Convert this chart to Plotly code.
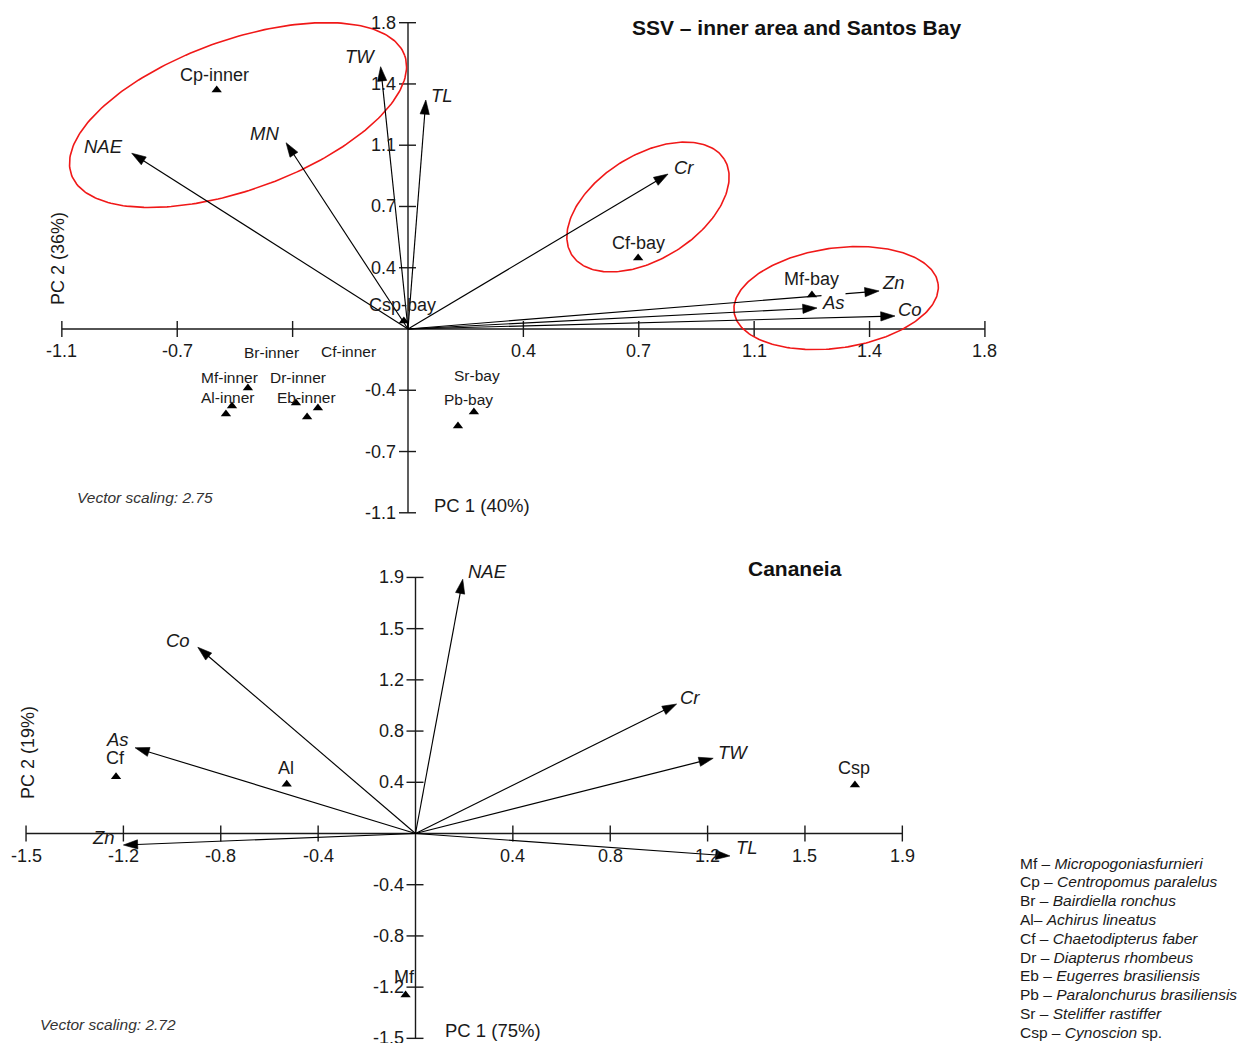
import numpy as np
import plotly.graph_objects as go

W, H = 1246, 1043

# ---------------- DATA: top panel (SSV - inner area and Santos Bay) ----------------
top_vec_names = ["NAE", "MN", "TW", "TL", "Cr", "Zn", "As", "Co"]
top_vec_x = [-0.868, -0.383, -0.086, 0.056, 0.817, 1.480, 1.285, 1.530]
top_vec_y = [1.040, 1.102, 1.552, 1.355, 0.917, 0.225, 0.124, 0.077]

top_samp_names = ["Cp-inner", "Br-inner", "Mf-inner", "Al-inner", "Dr-inner", "Eb-inner",
                  "Cf-inner", "Sr-bay", "Pb-bay", "Cf-bay", "Mf-bay", "Csp-bay"]
top_samp_x = [-0.601, -0.503, -0.553, -0.572, -0.352, -0.317, -0.283, 0.207, 0.157, 0.723, 1.269, -0.013]
top_samp_y = [1.414, -0.349, -0.456, -0.503, -0.438, -0.521, -0.467, -0.491, -0.574, 0.420, 0.201, 0.047]

top_tick_vals = [-1.0875, -0.725, -0.3625, 0.0, 0.3625, 0.725, 1.0875, 1.45, 1.8125]
top_x_ticktext = ["-1.1", "-0.7", "", "", "0.4", "0.7", "1.1", "1.4", "1.8"]
top_y_ticktext = ["-1.1", "-0.7", "-0.4", "", "0.4", "0.7", "1.1", "1.4", "1.8"]

# ---------------- DATA: bottom panel (Cananeia) ----------------
bot_vec_names = ["NAE", "Co", "As", "Zn", "Cr", "TW", "TL"]
bot_vec_x = [0.186, -0.857, -1.104, -1.150, 1.028, 1.172, 1.238]
bot_vec_y = [1.903, 1.394, 0.642, -0.086, 0.969, 0.563, -0.168]

bot_samp_names = ["Cf", "Al", "Csp", "Mf"]
bot_samp_x = [-1.179, -0.507, 1.730, -0.039]
bot_samp_y = [0.425, 0.368, 0.363, -1.209]

bot_tick_vals = [-1.5333, -1.15, -0.7667, -0.3833, 0.0, 0.3833, 0.7667, 1.15, 1.5333, 1.9167]
bot_ticktext = ["-1.5", "-1.2", "-0.8", "-0.4", "", "0.4", "0.8", "1.2", "1.5", "1.9"]

legend_abbr = ["Mf –", "Cp –", "Br –", "Al–", "Cf –", "Dr –", "Eb –", "Pb –", "Sr –", "Csp –"]
legend_species = ["Micropogoniasfurnieri", "Centropomus paralelus", "Bairdiella ronchus",
                  "Achirus lineatus", "Chaetodipterus faber", "Diapterus rhombeus",
                  "Eugerres brasiliensis", "Paralonchurus brasiliensis", "Steliffer rastiffer",
                  "Cynoscion"]
legend_suffix = ["", "", "", "", "", "", "", "", "", " sp."]

# ---------------- STYLE / LAYOUT ----------------
FONT = "Liberation Sans, Arial, sans-serif"
TXT = "#1a1a1a"
SPLIT = 545  # pixel row separating the two panels

# panel geometry: origin pixel and pixels per unit
top_geo = dict(ox=408.0, oy=329.0, sx=318.3, sy=169.0, ytop=0, ybot=SPLIT)
bot_geo = dict(ox=415.5, oy=833.5, sx=254.0, sy=133.6, ytop=SPLIT, ybot=H)


def axis_ranges(g):
    xr = [-g["ox"] / g["sx"], (W - g["ox"]) / g["sx"]]
    yr = [(g["oy"] - g["ybot"]) / g["sy"], (g["oy"] - g["ytop"]) / g["sy"]]
    return xr, yr


# label offsets (pixels) relative to the mark
top_vec_lab_off = {"NAE": (-28, 7), "MN": (-22, 9), "TW": (-21, 10), "TL": (16, 5),
                   "Cr": (16, 7), "Zn": (14, 8), "As": (16, 6), "Co": (15, 6)}
top_samp_lab_off = {"Cp-inner": (-2, 15), "Br-inner": (24, 35), "Mf-inner": (-2, 29),
                    "Al-inner": (2, 17), "Dr-inner": (2, 26), "Eb-inner": (-1, 20),
                    "Cf-inner": (31, 56), "Sr-bay": (3, 36), "Pb-bay": (11, 27),
                    "Cf-bay": (0, 15), "Mf-bay": (0, 16), "Csp-bay": (-1, 16)}
big_samp = {"Cp-inner", "Cf-bay", "Mf-bay", "Csp-bay"}
bot_vec_lab_off = {"NAE": (25, 8), "Co": (-20, 7), "As": (-18, 8), "Zn": (-20, 7),
                   "Cr": (13, 7), "TW": (20, 6), "TL": (17, 8)}
bot_samp_lab_off = {"Cf": (-1, 19), "Al": (-1, 16), "Csp": (-1, 17), "Mf": (-1, 18)}

# ellipses: centre in data units, semi-axes in pixels, rotation in degrees
top_ellipses = [((-0.534, 1.266), 177, 75, 19.7),
                ((0.754, 0.722), 90, 52, 32.0),
                ((1.345, 0.183), 103, 50, 8.0)]

fig = go.Figure()
shapes = []
annotations = []
AXC = "#1a1a1a"


def add_panel(xa, ya, g, tick_vals, xtt, ytt, vnames, vx, vy, voff,
              snames, sx_, sy_, soff, sfont):
    xref, yref = xa, ya
    lo, hi = tick_vals[0], tick_vals[-1]
    shapes.append(dict(type="line", xref=xref, yref=yref, x0=lo, x1=hi, y0=0, y1=0,
                       line=dict(color=AXC, width=1.4), layer="below"))
    shapes.append(dict(type="line", xref=xref, yref=yref, x0=0, x1=0, y0=lo, y1=hi,
                       line=dict(color=AXC, width=1.4), layer="below"))
    for tv, lx, ly in zip(tick_vals, xtt, ytt):
        if tv != 0:
            shapes.append(dict(type="line", xref=xref, yref=yref, x0=tv, x1=tv,
                               ysizemode="pixel", yanchor=0, y0=-8, y1=8,
                               line=dict(color=AXC, width=1.4), layer="below"))
            shapes.append(dict(type="line", xref=xref, yref=yref, y0=tv, y1=tv,
                               xsizemode="pixel", xanchor=0, x0=-9, x1=8,
                               line=dict(color=AXC, width=1.4), layer="below"))
        if lx:
            annotations.append(dict(text=lx, xref=xref, yref=yref, x=tv, y=0, yshift=-22,
                                    showarrow=False, xanchor="center", yanchor="middle",
                                    font=dict(family=FONT, size=18, color=TXT)))
        if ly:
            annotations.append(dict(text=ly, xref=xref, yref=yref, x=0, y=tv, xshift=-10,
                                    showarrow=False, xanchor="right", yanchor="middle",
                                    font=dict(family=FONT, size=18, color=TXT)))
    # vectors
    for n, x, y in zip(vnames, vx, vy):
        fig.add_trace(go.Scatter(
            x=[0, x], y=[0, y], mode="lines+markers", showlegend=False, hoverinfo="skip",
            line=dict(color="#000", width=1.15),
            marker=dict(symbol=["circle", "arrow"], size=[0, 15], angleref="previous",
                        color="#000", opacity=1, line=dict(width=0.6, color="#000")),
            xaxis=xa, yaxis=ya, cliponaxis=False))
    for n, x, y in zip(vnames, vx, vy):
        dx, dy = voff[n]
        annotations.append(dict(text="<i>%s</i>" % n, xref=xref, yref=yref, x=x, y=y,
                                xshift=dx, yshift=dy, showarrow=False,
                                xanchor="center", yanchor="middle",
                                bgcolor="white" if (n == "As" and xa == "x") else None,
                                borderpad=0,
                                font=dict(family=FONT, size=18.5, color=TXT)))
    # samples
    fig.add_trace(go.Scatter(
        x=sx_, y=sy_, mode="markers", showlegend=False, hoverinfo="skip",
        marker=dict(symbol="triangle-up", size=9, color="#000"),
        xaxis=xa, yaxis=ya, cliponaxis=False))
    for n, x, y in zip(snames, sx_, sy_):
        dx, dy = soff[n]
        annotations.append(dict(text=n, xref=xref, yref=yref, x=x, y=y,
                                xshift=dx, yshift=dy, showarrow=False,
                                xanchor="center", yanchor="middle",
                                font=dict(family=FONT, size=sfont(n), color=TXT)))


# ellipses (top panel)
t = np.linspace(0, 2 * np.pi, 240)
for (cx, cy), a, b, th in top_ellipses:
    thr = np.deg2rad(th)
    dxp = a * np.cos(t) * np.cos(thr) - b * np.sin(t) * np.sin(thr)
    dyp = a * np.cos(t) * np.sin(thr) + b * np.sin(t) * np.cos(thr)
    fig.add_trace(go.Scatter(x=cx + dxp / top_geo["sx"], y=cy + dyp / top_geo["sy"],
                             mode="lines", line=dict(color="#f01818", width=1.6),
                             showlegend=False, hoverinfo="skip", xaxis="x", yaxis="y"))

add_panel("x", "y", top_geo, top_tick_vals, top_x_ticktext, top_y_ticktext,
          top_vec_names, top_vec_x, top_vec_y, top_vec_lab_off,
          top_samp_names, top_samp_x, top_samp_y, top_samp_lab_off,
          lambda n: 18 if n in big_samp else 15.5)
add_panel("x2", "y2", bot_geo, bot_tick_vals, bot_ticktext, bot_ticktext,
          bot_vec_names, bot_vec_x, bot_vec_y, bot_vec_lab_off,
          bot_samp_names, bot_samp_x, bot_samp_y, bot_samp_lab_off,
          lambda n: 18)


def pann(text, px, py, size, xanchor="center", angle=0, color=TXT):
    annotations.append(dict(text=text, xref="paper", yref="paper", x=px / W, y=1 - py / H,
                            showarrow=False, xanchor=xanchor, yanchor="middle",
                            textangle=angle, font=dict(family=FONT, size=size, color=color)))


pann("<b>SSV – inner area and Santos Bay</b>", 796, 28, 21, color="#111")
pann("<b>Cananeia</b>", 795, 568, 21, color="#111")
pann("PC 2 (36%)", 58, 259, 18, angle=-90)
pann("PC 2 (19%)", 28, 753, 18, angle=-90)
pann("PC 1 (40%)", 432, 505, 18.5, xanchor="left")
pann("PC 1 (75%)", 443, 1030, 18.5, xanchor="left")
pann("<i>Vector scaling: 2.75</i>", 75, 497, 15.5, xanchor="left", color="#333")
pann("<i>Vector scaling: 2.72</i>", 38, 1024, 15.5, xanchor="left", color="#333")

for i, (ab, sp, suf) in enumerate(zip(legend_abbr, legend_species, legend_suffix)):
    pann("%s <i>%s</i>%s" % (ab, sp, suf), 1018, 863 + 18.8 * i, 15.5, xanchor="left", color="#1a1a1a")

txr, tyr = axis_ranges(top_geo)
bxr, byr = axis_ranges(bot_geo)
fig.update_layout(
    width=W, height=H, autosize=False,
    margin=dict(l=0, r=0, t=0, b=0),
    paper_bgcolor="white", plot_bgcolor="white",
    xaxis=dict(domain=[0, 1], range=txr, visible=False, fixedrange=True, anchor="y"),
    yaxis=dict(domain=[1 - SPLIT / H, 1], range=tyr, visible=False, fixedrange=True, anchor="x"),
    xaxis2=dict(domain=[0, 1], range=bxr, visible=False, fixedrange=True, anchor="y2"),
    yaxis2=dict(domain=[0, 1 - SPLIT / H], range=byr, visible=False, fixedrange=True, anchor="x2"),
    shapes=shapes, annotations=annotations, showlegend=False,
)

fig.write_html("out.html", config={"displayModeBar": False},
               post_script="document.body.style.margin='0';document.body.style.overflow='hidden';")
